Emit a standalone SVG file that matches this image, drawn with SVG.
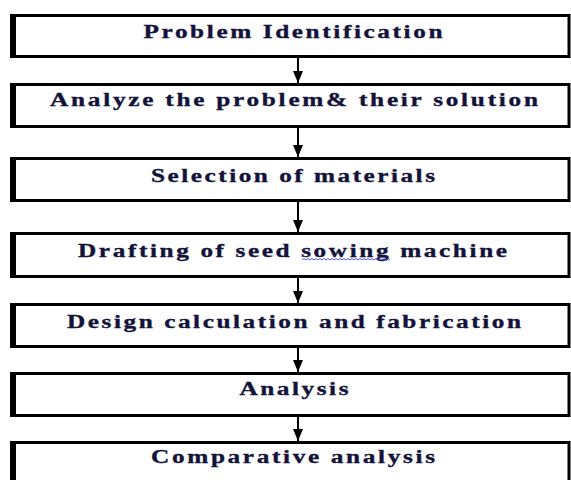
<svg xmlns="http://www.w3.org/2000/svg" width="571" height="480" viewBox="0 0 571 480">
<style>
.box{fill:#fff;stroke:#000;stroke-width:3}
.bar{fill:#000}
.t{font-family:"Liberation Serif","Times New Roman",serif;font-weight:bold;font-size:19px;fill:#12123a;stroke:#12123a;stroke-width:0.35;text-anchor:middle}
.c{stroke:#000;stroke-width:2;fill:none}
</style>
<defs>
<marker id="ah" viewBox="0 0 12 10" refX="12" refY="5" markerWidth="12" markerHeight="10" markerUnits="userSpaceOnUse" orient="auto">
<path d="M0,0 L12,5 L0,10 Z" fill="#000"/>
</marker>
</defs>
<rect width="571" height="480" fill="#fff"/>
<g id="connectors">
<line class="c" x1="298" y1="58" x2="298" y2="83" marker-end="url(#ah)"/>
<line class="c" x1="298" y1="128" x2="298" y2="157" marker-end="url(#ah)"/>
<line class="c" x1="298" y1="202" x2="298" y2="232" marker-end="url(#ah)"/>
<line class="c" x1="298" y1="278" x2="298" y2="303" marker-end="url(#ah)"/>
<line class="c" x1="298" y1="348" x2="298" y2="372" marker-end="url(#ah)"/>
<line class="c" x1="298" y1="417" x2="298" y2="441" marker-end="url(#ah)"/>
</g>
<g id="n1">
<rect class="box" x="11.5" y="15.5" width="557.5" height="41"/>
<rect class="bar" x="10" y="14" width="6" height="44"/>
<text class="t" transform="translate(293,38) scale(1.33,1)" textLength="224.8" lengthAdjust="spacing">Problem Identification</text>
</g>
<g id="n2">
<rect class="box" x="11.5" y="84.5" width="557.5" height="42"/>
<rect class="bar" x="10" y="83" width="6" height="45"/>
<text class="t" transform="translate(294,106) scale(1.33,1)" textLength="366.9" lengthAdjust="spacing">Analyze the problem&amp; their solution</text>
</g>
<g id="n3">
<rect class="box" x="11.5" y="158.5" width="557.5" height="42"/>
<rect class="bar" x="10" y="157" width="6" height="45"/>
<text class="t" transform="translate(293,182) scale(1.33,1)" textLength="213.5" lengthAdjust="spacing">Selection of materials</text>
</g>
<g id="n4">
<rect class="box" x="11.5" y="233.5" width="557.5" height="43"/>
<rect class="bar" x="10" y="232" width="6" height="46"/>
<text class="t" transform="translate(292.5,257) scale(1.33,1)" textLength="322.6" lengthAdjust="spacing">Drafting of seed sowing machine</text>
<path d="M302,260 l2,-1.5 l2,1.5 l2,-1.5 l2,1.5 l2,-1.5 l2,1.5 l2,-1.5 l2,1.5 l2,-1.5 l2,1.5 l2,-1.5 l2,1.5 l2,-1.5 l2,1.5 l2,-1.5 l2,1.5 l2,-1.5 l2,1.5 l2,-1.5 l2,1.5 l2,-1.5 l2,1.5 l2,-1.5 l2,1.5 l2,-1.5 l2,1.5 l2,-1.5 l2,1.5 l2,-1.5 l2,1.5 l2,-1.5 l2,1.5 l2,-1.5 l2,1.5 l2,-1.5 l2,1.5 l2,-1.5 l2,1.5 l2,-1.5 l2,1.5 l2,-1.5 l2,1.5 l2,-1.5 l2,1.5" fill="none" stroke="#3a3aff" stroke-width="0.9"/>
</g>
<g id="n5">
<rect class="box" x="11.5" y="304.5" width="557.5" height="42"/>
<rect class="bar" x="10" y="303" width="6" height="45"/>
<text class="t" transform="translate(294,328) scale(1.33,1)" textLength="341.4" lengthAdjust="spacing">Design calculation and fabrication</text>
</g>
<g id="n6">
<rect class="box" x="11.5" y="373.5" width="557.5" height="42"/>
<rect class="bar" x="10" y="372" width="6" height="45"/>
<text class="t" transform="translate(294,395) scale(1.33,1)" textLength="82" lengthAdjust="spacing">Analysis</text>
</g>
<g id="n7">
<rect class="box" x="11.5" y="442.5" width="557.5" height="60"/>
<rect class="bar" x="10" y="441" width="6" height="63"/>
<text class="t" transform="translate(293,463) scale(1.33,1)" textLength="213.5" lengthAdjust="spacing">Comparative analysis</text>
</g>
</svg>
